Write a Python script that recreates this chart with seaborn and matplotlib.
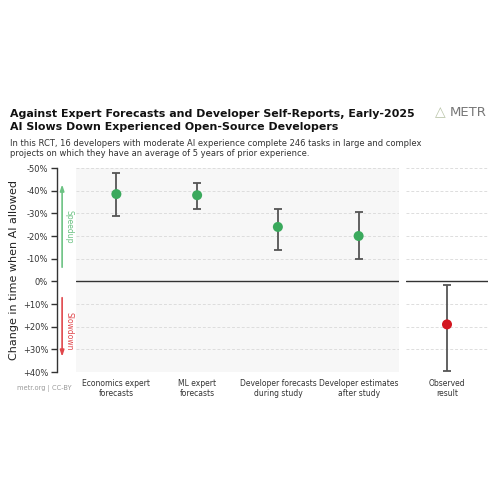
import matplotlib
matplotlib.use("Agg")
import matplotlib.pyplot as plt
import seaborn as sns
import pandas as pd

# Data (negative = speedup, positive = slowdown), percent change in completion time
forecast_labels = ["Economics expert\nforecasts", "ML expert\nforecasts",
                   "Developer forecasts\nduring study", "Developer estimates\nafter study"]
forecast_mean = [-38.5, -38, -24, -20]
forecast_low = [-48, -43.5, -32, -30.5]
forecast_high = [-29, -32, -14, -10]

observed_labels = ["Observed\nresult"]
observed_mean = [19]
observed_low = [1.5]
observed_high = [39.5]

yticks = [-50, -40, -30, -20, -10, 0, 10, 20, 30, 40]
ytick_labels = ["-50%", "-40%", "-30%", "-20%", "-10%", "0%", "+10%", "+20%", "+30%", "+40%"]

green = "#3aa95c"
red = "#d3161f"
bar_color = "#555555"
grid_color = "#dddddd"

sns.set_theme(style="white")
plt.rcParams["font.family"] = ["DejaVu Sans"]

fig = plt.figure(figsize=(5, 5), dpi=100)
ax = fig.add_axes([0.152, 0.256, 0.646, 0.408])
ax2 = fig.add_axes([0.812, 0.256, 0.164, 0.408], sharey=ax)

df_f = pd.DataFrame({"label": forecast_labels, "mean": forecast_mean,
                     "low": forecast_low, "high": forecast_high})
df_o = pd.DataFrame({"label": observed_labels, "mean": observed_mean,
                     "low": observed_low, "high": observed_high})


def draw(a, df, color):
    a.axhline(0, color="#333333", lw=1, zorder=2)
    a.errorbar(df["label"], df["mean"],
               yerr=[df["mean"] - df["low"], df["high"] - df["mean"]],
               fmt="none", ecolor=bar_color, elinewidth=1.3, capsize=3.2, capthick=1.3, zorder=3)
    sns.scatterplot(data=df, x="label", y="mean", color=color, s=52, edgecolor="none",
                    zorder=4, ax=a, legend=False)
    a.set_yticks(yticks)
    a.yaxis.grid(True, color=grid_color, ls=(0, (3, 2)), lw=0.7)
    a.set_xlabel("")
    a.set_ylabel("")
    a.tick_params(axis="x", length=0, labelsize=5.5, pad=5, colors="#333333")
    for s in a.spines.values():
        s.set_visible(False)


draw(ax, df_f, green)
draw(ax2, df_o, red)

ax.set_facecolor("#f7f7f7")
ax.set_xlim(-0.5, 3.5)
ax2.set_xlim(-0.5, 0.5)
ax2.set_facecolor("white")
ax.set_ylim(40, -50)

ax.set_yticklabels(ytick_labels)
ax.spines["left"].set_visible(True)
ax.spines["left"].set_position(("outward", 14))
ax.spines["left"].set_color("#333333")
ax.spines["left"].set_linewidth(1)
ax.tick_params(axis="y", left=True, length=4, width=1, color="#333333",
               labelsize=6, colors="#333333", pad=2)
ax2.tick_params(axis="y", left=False, labelleft=False)
ax.set_ylabel("Change in time when AI allowed", fontsize=8, color="#222222")
ax.yaxis.set_label_coords(-0.176, 0.5)

# Speedup / Slowdown arrows
ax.annotate("", xy=(-0.043, -44), xytext=(-0.043, -5), xycoords=("axes fraction", "data"),
            arrowprops=dict(arrowstyle="-|>,head_length=0.3,head_width=0.1", color="#6cc283", lw=1.2),
            annotation_clip=False)
ax.annotate("", xy=(-0.043, 34.5), xytext=(-0.043, 6), xycoords=("axes fraction", "data"),
            arrowprops=dict(arrowstyle="-|>,head_length=0.3,head_width=0.1", color="#e0474c", lw=1.2),
            annotation_clip=False)
ax.text(-0.022, -24, "Speedup", transform=ax.get_yaxis_transform(), rotation=270,
        ha="center", va="center", fontsize=5.5, color="#6cc283")
ax.text(-0.022, 22, "Slowdown", transform=ax.get_yaxis_transform(), rotation=270,
        ha="center", va="center", fontsize=5.5, color="#e0474c")

# Title block
fig.text(0.02, 0.759, "Against Expert Forecasts and Developer Self-Reports, Early-2025\n"
         "AI Slows Down Experienced Open-Source Developers",
         fontsize=7.95, fontweight="bold", color="#111111", va="center", linespacing=1.3)
fig.text(0.02, 0.703, "In this RCT, 16 developers with moderate AI experience complete 246 tasks in large and complex\n"
         "projects on which they have an average of 5 years of prior experience.",
         fontsize=6.05, color="#333333", va="center", linespacing=1.2)
fig.text(0.88, 0.775, "\u25b3", fontsize=10, color="#b9c4a8", ha="center", va="center")
fig.text(0.9, 0.775, "METR", fontsize=9.5, color="#777777", ha="left", va="center")
fig.text(0.034, 0.222, "metr.org | CC-BY", fontsize=4.8, color="#999999", va="center")

fig.savefig("out.png", dpi=100)
